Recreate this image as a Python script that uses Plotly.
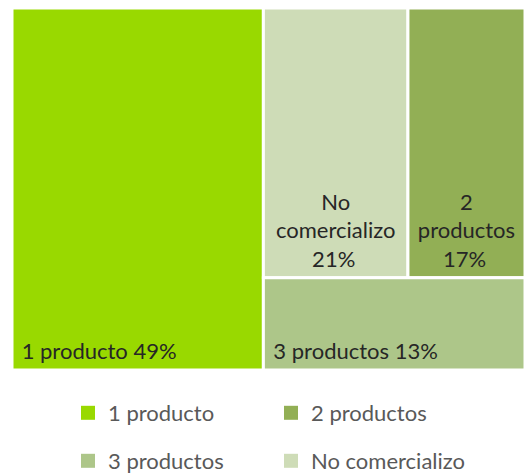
import plotly.graph_objects as go

# Share of respondents by number of products sold
categories = ["1 producto", "No comercializo", "2 productos", "3 productos"]
shares = [49, 21, 17, 13]
colors = ["#99D900", "#CEDCB7", "#92AF55", "#ADC689"]

# Legend order (two rows of two entries)
legend_rows = [["1 producto", "2 productos"], ["3 productos", "No comercializo"]]

FONT = "Lato, 'Open Sans', sans-serif"
NBSP = "\u00a0"
PAD_COUNT = {"1 producto": 13, "3 productos": 13}
# a trailing subscript blank lifts the label a little off the tile's bottom edge
LIFT = "<sub>" + NBSP + "</sub>"

def tile_text(name, pct):
    # Wide tiles get a single line kept to the left, narrow tiles wrap onto three lines
    if name in PAD_COUNT:
        return f"{name} {pct}%" + NBSP * PAD_COUNT[name] + LIFT
    words = name.split(" ")
    return "<br>".join(words) + f"<br>{pct}%" + LIFT

texts = [tile_text(c, v) for c, v in zip(categories, shares)]

fig = go.Figure()

fig.add_trace(go.Treemap(
    labels=categories,
    parents=[""] * len(categories),
    values=shares,
    text=texts,
    textinfo="text",
    textposition="bottom center",
    textfont=dict(family=FONT, size=22, color="#262626"),
    marker=dict(colors=colors, line=dict(color="white", width=3),
                pad=dict(t=0, l=0, r=0, b=0)),
    tiling=dict(packing="squarify", squarifyratio=1.3, pad=0),
    pathbar=dict(visible=False),
    sort=True,
    hoverinfo="label+value",
    domain=dict(x=[12 / 525, 1.0], y=[1 - 370 / 475, 1 - 8 / 475]),
))

color_of = dict(zip(categories, colors))
for row_idx, row in enumerate(legend_rows):
    legend_name = "legend" if row_idx == 0 else "legend2"
    for name in row:
        fig.add_trace(go.Scatter(
            x=[None], y=[None],
            mode="markers",
            name=name,
            marker=dict(symbol="square", size=14, color=color_of[name]),
            showlegend=True,
            legend=legend_name,
            hoverinfo="skip",
        ))

legend_common = dict(
    orientation="h",
    xanchor="left",
    yanchor="middle",
    x=68 / 525,
    font=dict(family=FONT, size=22, color="#595959"),
    entrywidth=158,
    entrywidthmode="pixels",
    bgcolor="rgba(0,0,0,0)",
    borderwidth=0,
)

fig.update_layout(
    width=525,
    height=475,
    margin=dict(l=0, r=0, t=0, b=0, autoexpand=False),
    paper_bgcolor="white",
    plot_bgcolor="white",
    xaxis=dict(visible=False),
    yaxis=dict(visible=False),
    legend=dict(legend_common, y=1 - 413 / 475),
    legend2=dict(legend_common, y=1 - 461 / 475),
)

fig.write_html("out.html")
